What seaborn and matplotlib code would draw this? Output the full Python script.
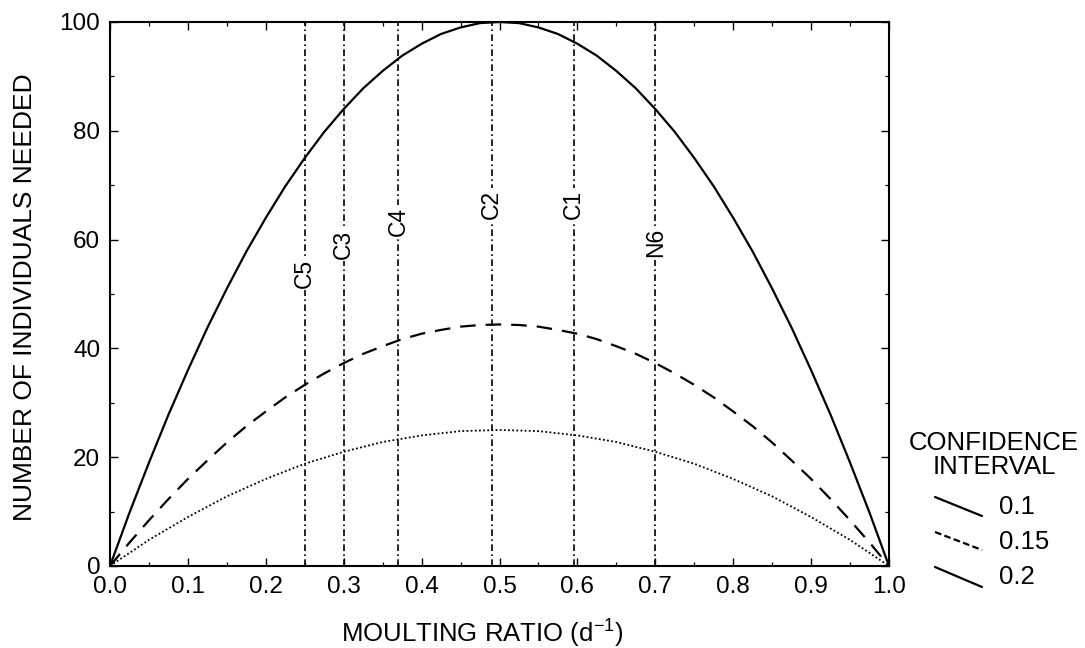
import numpy as np
import pandas as pd
import matplotlib
matplotlib.use("Agg")
import matplotlib.pyplot as plt
from matplotlib.lines import Line2D
import seaborn as sns

# ---- data ----
ratio = [0.0, 0.025, 0.05, 0.075, 0.1, 0.125, 0.15, 0.175, 0.2, 0.225, 0.25,
         0.275, 0.3, 0.325, 0.35, 0.375, 0.4, 0.425, 0.45, 0.475, 0.5,
         0.525, 0.55, 0.575, 0.6, 0.625, 0.65, 0.675, 0.7, 0.725, 0.75,
         0.775, 0.8, 0.825, 0.85, 0.875, 0.9, 0.925, 0.95, 0.975, 1.0]
n_ci_010 = [0, 9.8, 19, 27.8, 36, 43.8, 51, 57.8, 64, 69.8, 75,
            79.8, 84, 87.8, 91, 93.8, 96, 97.8, 99, 99.8, 100,
            99.8, 99, 97.8, 96, 93.8, 91, 87.8, 84, 79.8, 75,
            69.8, 64, 57.8, 51, 43.8, 36, 27.8, 19, 9.8, 0]
n_ci_015 = [0, 4.3, 8.4, 12.3, 16, 19.4, 22.7, 25.7, 28.4, 31, 33.3,
            35.4, 37.3, 39, 40.4, 41.7, 42.7, 43.4, 44, 44.3, 44.4,
            44.3, 44, 43.4, 42.7, 41.7, 40.4, 39, 37.3, 35.4, 33.3,
            31, 28.4, 25.7, 22.7, 19.4, 16, 12.3, 8.4, 4.3, 0]
n_ci_020 = [0, 2.4, 4.8, 6.9, 9, 10.9, 12.8, 14.4, 16, 17.4, 18.8,
            19.9, 21, 21.9, 22.8, 23.4, 24, 24.4, 24.8, 24.9, 25,
            24.9, 24.8, 24.4, 24, 23.4, 22.8, 21.9, 21, 19.9, 18.8,
            17.4, 16, 14.4, 12.8, 10.9, 9, 6.9, 4.8, 2.4, 0]
ci_labels = ["0.1", "0.15", "0.2"]

stage_names = ["C5", "C3", "C4", "C2", "C1", "N6"]
stage_ratio = [0.25, 0.30, 0.37, 0.49, 0.595, 0.70]
stage_label_y = [53.7, 59.2, 63.4, 66.4, 66.5, 59.4]

x_ticks = [0.0, 0.1, 0.2, 0.3, 0.4, 0.5, 0.6, 0.7, 0.8, 0.9, 1.0]
y_ticks = [0, 20, 40, 60, 80, 100]

# ---- styling ----
sns.set_theme(style="ticks")
plt.rcParams["font.family"] = ["Liberation Sans", "DejaVu Sans"]
plt.rcParams["mathtext.fontset"] = "custom"
plt.rcParams["mathtext.rm"] = "Liberation Sans"
plt.rcParams["mathtext.it"] = "Liberation Sans"
plt.rcParams["mathtext.default"] = "regular"

fig = plt.figure(figsize=(10.85, 6.48), dpi=100)
ax = fig.add_axes([110 / 1085, 1 - 566 / 648, (889 - 110) / 1085, (566 - 22) / 648])

df = pd.DataFrame({
    "ratio": ratio * 3,
    "n": n_ci_010 + n_ci_015 + n_ci_020,
    "ci": [ci_labels[0]] * len(ratio) + [ci_labels[1]] * len(ratio) + [ci_labels[2]] * len(ratio),
})

styles = {
    "0.1": dict(ls="-", lw=1.6),
    "0.15": dict(ls=(0, (7, 4.5)), lw=1.6),
    "0.2": dict(ls=(0, (1, 1.3)), lw=1.3),
}
for ci in ci_labels:
    sub = df[df["ci"] == ci]
    sns.lineplot(data=sub, x="ratio", y="n", ax=ax, color="black",
                 linestyle=styles[ci]["ls"], lw=styles[ci]["lw"], legend=False)

# vertical stage lines with labels
for name, xr, yl in zip(stage_names, stage_ratio, stage_label_y):
    ax.axvline(xr, color="black", lw=1.2, ls=(0, (4, 2, 1, 2)), zorder=1)
    ax.text(xr, yl, name, rotation=90, ha="center", va="center", fontsize=16.5,
            color="black", zorder=3,
            bbox=dict(facecolor="white", edgecolor="none", pad=1.5))

ax.set_xlim(0, 1)
ax.set_ylim(0, 100)
ax.set_xticks(x_ticks)
ax.set_xticklabels([f"{v:.1f}" for v in x_ticks])
ax.set_yticks(y_ticks)
ax.set_yticklabels([str(v) for v in y_ticks])
ax.set_xticks([0.05 + 0.1 * i for i in range(10)], minor=True)
ax.set_yticks([10, 30, 50, 70, 90], minor=True)

ax.tick_params(which="both", direction="in", top=True, right=True, colors="black")
ax.tick_params(which="major", length=6, width=1.0, labelsize=17.5, pad=7)
ax.tick_params(which="minor", length=3, width=0.9)
for sp in ax.spines.values():
    sp.set_visible(True)
    sp.set_linewidth(1.5)
    sp.set_color("black")

ax.set_xlabel(r"MOULTING RATIO (d$^{-1}$)", fontsize=18.5, color="black")
ax.xaxis.set_label_coords((482 - 110) / 779, -(634 - 566) / 544, transform=ax.transAxes)
ax.xaxis.label.set_va("center")
ax.set_ylabel("NUMBER OF INDIVIDUALS NEEDED", fontsize=19, color="black")
ax.yaxis.set_label_coords(-(110 - 25) / 779, (566 - 297) / 544, transform=ax.transAxes)
ax.yaxis.label.set_va("center")

# custom legend
fig.text(994 / 1085, 1 - 455 / 648, "CONFIDENCE\nINTERVAL", ha="center", va="center",
         fontsize=18.5, color="black", linespacing=1.0, multialignment="center")
leg_rows = [(497, 516, 507), (532, 550, 542), (567, 587, 577)]
for ci, (y0, y1, yt) in zip(ci_labels, leg_rows):
    ls = "-"
    if ci == "0.15":
        ls = (0, (3, 1.5))
    fig.add_artist(Line2D([935 / 1085, 982 / 1085], [1 - y0 / 648, 1 - y1 / 648],
                          transform=fig.transFigure, color="black", lw=1.6, ls=ls))
    fig.text(999 / 1085, 1 - yt / 648, ci, ha="left", va="center", fontsize=18.5, color="black")

fig.savefig("out.png", dpi=100, facecolor="white")
